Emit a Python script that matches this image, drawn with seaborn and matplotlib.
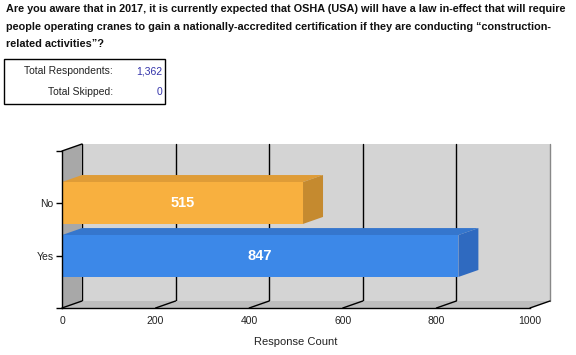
import matplotlib
matplotlib.use("Agg")
import matplotlib.pyplot as plt
import matplotlib.transforms as mtransforms
from matplotlib.patches import Polygon, Rectangle
import seaborn as sns

# survey answers
answers = ["No", "Yes"]
counts = [515, 847]
total_respondents = "1,362"
total_skipped = "0"

question_lines = [
    "Are you aware that in 2017, it is currently expected that OSHA (USA) will have a law in-effect that will require",
    "people operating cranes to gain a nationally-accredited certification if they are conducting \u201cconstruction-",
    "related activities\u201d?",
]
x_ticks = [0, 200, 400, 600, 800, 1000]

front_colors = ["#F8B03F", "#3C88E8"]
top_colors = ["#DF9C37", "#3576CD"]
side_colors = ["#C58A2F", "#2F6AC0"]

sns.set_style("white")
plt.rcParams["font.family"] = ["Liberation Sans", "DejaVu Sans"]

W, H = 576, 355
DX, DY = 20, 7  # depth of the fake 3d, in pixels

fig = plt.figure(figsize=(W / 100, H / 100), dpi=100)
fig.patch.set_facecolor("white")
ax = fig.add_axes([62 / W, 47 / H, 468 / W, 157 / H])
ax.set_facecolor("none")

sns.barplot(x=counts, y=answers, hue=answers, palette=front_colors, orient="h",
            width=0.79, saturation=1, edgecolor="none", legend=False, ax=ax, zorder=3)
ax.set_xlim(0, 1000)
ax.set_ylim(1.98, -0.98)
fig.canvas.draw()

ident = mtransforms.IdentityTransform()


def face(pts, back, color, z, lw=0, ec="none"):
    # pts in display px, back flags which ones get pushed into depth
    verts = [(x + DX, y + DY) if b else (x, y) for (x, y), b in zip(pts, back)]
    p = Polygon(verts, closed=True, facecolor=color, edgecolor=ec, lw=lw,
                transform=ident, clip_on=False, zorder=z)
    ax.add_patch(p)


def disp(x, y, trans=ax.transData):
    return tuple(trans.transform((x, y)))


xt = ax.get_xaxis_transform()
# back wall, left wall, floor
bl, tl = disp(0, 0, xt), disp(0, 1, xt)
br, tr = disp(1000, 0, xt), disp(1000, 1, xt)
face([bl, br, tr, tl], [1, 1, 1, 1], "#D4D4D4", 0.1)
face([bl, tl, tl, bl], [0, 0, 1, 1], "#A8A8A8", 0.3)
face([bl, br, br, bl], [0, 0, 1, 1], "#BEBEBE", 0.3)

back = mtransforms.offset_copy(xt, fig=fig, x=DX, y=DY, units="dots")
for t in x_ticks:
    col = "#888888" if t == 1000 else "black"
    ax.plot([t, t], [0, 1], color=col, lw=1, transform=back, clip_on=False, zorder=0.2)
    p0 = disp(t, 0, xt)
    ax.plot([p0[0], p0[0] + DX], [p0[1], p0[1] + DY], color="black", lw=1,
            transform=ident, clip_on=False, zorder=0.4)
ax.plot([tl[0], tl[0] + DX], [tl[1], tl[1] + DY], color="black", lw=1,
        transform=ident, clip_on=False, zorder=0.4)

# top and side faces of the bars
for i, bar in enumerate(ax.patches[:len(counts)]):
    x0, y0 = bar.get_x(), bar.get_y()
    x1, y1 = x0 + bar.get_width(), y0 + bar.get_height()
    a, b = disp(x0, y0), disp(x1, y0)
    c, d = disp(x1, y1), disp(x0, y1)
    face([a, b, b, a], [0, 0, 1, 1], top_colors[i], 2)
    face([c, b, b, c], [0, 0, 1, 1], side_colors[i], 2)

for cont in ax.containers:
    ax.bar_label(cont, label_type="center", color="white", fontweight="bold",
                 fontsize=10.5, zorder=4)

for s in ["top", "right"]:
    ax.spines[s].set_visible(False)
for s in ["left", "bottom"]:
    ax.spines[s].set_color("black")
    ax.spines[s].set_linewidth(1)
    ax.spines[s].set_zorder(5)

ax.set_xticks(x_ticks)
ax.set_xticklabels([str(t) for t in x_ticks])
ax.tick_params(axis="x", length=0, pad=6, labelsize=7.5, labelcolor="#222222")
ax.tick_params(axis="y", length=4, width=1, color="black", pad=2, labelsize=7.5,
               left=True, labelcolor="#222222")
ax.set_yticks([1.98, -0.98], minor=True)
ax.tick_params(axis="y", which="minor", length=4, width=1, color="black", left=True)
ax.set_ylabel("")
ax.set_xlabel("Response Count", fontsize=8, color="#222222", labelpad=8)

# question text
fig.text(6 / W, 1 - 4 / H, "\n".join(question_lines), ha="left", va="top",
         fontsize=7.8, fontweight="bold", color="#111111", linespacing=1.95)

# respondents box
fig.add_artist(Rectangle((4 / W, 1 - 104 / H), 161 / W, 45 / H, transform=fig.transFigure,
                         facecolor="none", edgecolor="black", lw=1))
fig.text(113 / W, 1 - 71 / H, "Total Respondents:", ha="right", va="center", fontsize=7.5,
         color="#222222")
fig.text(162 / W, 1 - 71 / H, total_respondents, ha="right", va="center", fontsize=7.5,
         color="#3333AA")
fig.text(113 / W, 1 - 92 / H, "Total Skipped:", ha="right", va="center", fontsize=7.5,
         color="#222222")
fig.text(162 / W, 1 - 92 / H, total_skipped, ha="right", va="center", fontsize=7.5,
         color="#3333AA")

fig.savefig("out.png", dpi=100)
